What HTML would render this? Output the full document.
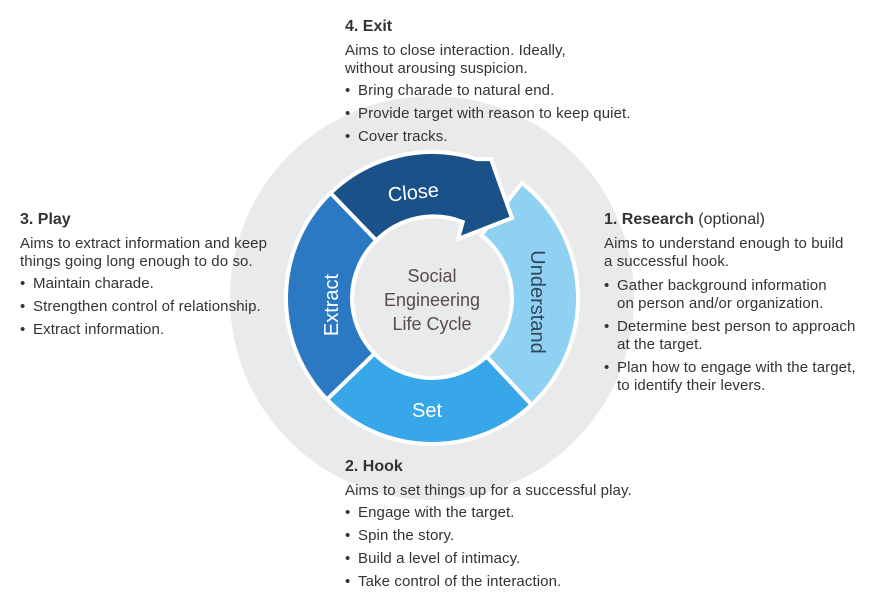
<!DOCTYPE html>
<html><head><meta charset="utf-8">
<style>
html,body{margin:0;padding:0;background:#fff;}
body{width:876px;height:608px;position:relative;overflow:hidden;font-family:"Liberation Sans",sans-serif;color:#333;}
.blk{position:absolute;font-size:15px;letter-spacing:0.1px;line-height:18px;white-space:nowrap;}
.blk h3{margin:0 0 6px 0;font-size:16px;font-weight:bold;color:#333;letter-spacing:0;}
.blk p{margin:0 0 4px 0;}
.blk ul{margin:0;padding:0;list-style:none;}
.blk li{position:relative;padding-left:13px;margin-bottom:5px;}
.blk li:before{content:"•";position:absolute;left:0;}
svg{position:absolute;left:0;top:0;}
</style></head>
<body>
<svg width="876" height="608">
  <circle cx="432" cy="298" r="202" fill="#e9eaeb"/>
  <g id="ring" stroke="#fff" stroke-width="4"></g>
  <text x="432" y="282" text-anchor="middle" font-size="18" fill="#5a4a4a" font-family="Liberation Sans, sans-serif">Social</text>
  <text x="432" y="306" text-anchor="middle" font-size="18" fill="#5a4a4a" font-family="Liberation Sans, sans-serif">Engineering</text>
  <text x="432" y="330" text-anchor="middle" font-size="18" fill="#5a4a4a" font-family="Liberation Sans, sans-serif">Life Cycle</text>
  <text transform="translate(414,199) rotate(-6)" text-anchor="middle" font-size="20" fill="#fff" font-family="Liberation Sans, sans-serif">Close</text>
  <text transform="translate(531,302) rotate(90)" text-anchor="middle" font-size="20" fill="#34465a" font-family="Liberation Sans, sans-serif">Understand</text>
  <text transform="translate(338,305) rotate(-90)" text-anchor="middle" font-size="20" fill="#fff" font-family="Liberation Sans, sans-serif">Extract</text>
  <text x="427" y="417" text-anchor="middle" font-size="20" fill="#fff" font-family="Liberation Sans, sans-serif">Set</text>
</svg>

<div class="blk" style="left:345px;top:18px;">
  <h3>4. Exit</h3>
  <p>Aims to close interaction. Ideally,<br>without arousing suspicion.</p>
  <ul><li>Bring charade to natural end.</li><li>Provide target with reason to keep quiet.</li><li>Cover tracks.</li></ul>
</div>
<div class="blk" style="left:20px;top:211px;">
  <h3>3. Play</h3>
  <p>Aims to extract information and keep<br>things going long enough to do so.</p>
  <ul><li>Maintain charade.</li><li>Strengthen control of relationship.</li><li>Extract information.</li></ul>
</div>
<div class="blk" style="left:604px;top:211px;">
  <h3>1. Research <span style="font-weight:normal">(optional)</span></h3>
  <p style="margin-bottom:6px">Aims to understand enough to build<br>a successful hook.</p>
  <ul><li>Gather background information<br>on person and/or organization.</li><li>Determine best person to approach<br>at the target.</li><li>Plan how to engage with the target,<br>to identify their levers.</li></ul>
</div>
<div class="blk" style="left:345px;top:458px;">
  <h3>2. Hook</h3>
  <p>Aims to set things up for a successful play.</p>
  <ul><li>Engage with the target.</li><li>Spin the story.</li><li>Build a level of intimacy.</li><li>Take control of the interaction.</li></ul>
</div>

<script>
const cx=432, cy=298, R=146, r=80;
function pt(a,rad){const t=(a-90)*Math.PI/180;return [cx+rad*Math.cos(t),cy+rad*Math.sin(t)];}
function sector(a0,a1){
  const p1=pt(a0,R),p2=pt(a1,R),p3=pt(a1,r),p4=pt(a0,r);
  const big=((a1-a0+360)%360)>180?1:0;
  return `M${p1[0]},${p1[1]} A${R},${R} 0 ${big} 1 ${p2[0]},${p2[1]} L${p3[0]},${p3[1]} A${r},${r} 0 ${big} 0 ${p4[0]},${p4[1]} Z`;
}
const g=document.getElementById('ring');
const segs=[
  {n:'understand-segment',a0:38,a1:137,c:'#8fd1f3'},
  {n:'set-segment',a0:137,a1:226,c:'#38a7e9'},
  {n:'extract-segment',a0:226,a1:316,c:'#2b79c3'},
];
segs.forEach(s=>{
  const p=document.createElementNS('http://www.w3.org/2000/svg','path');
  p.setAttribute('d',sector(s.a0,s.a1));
  p.setAttribute('fill',s.c);
  
  
  g.appendChild(p);
});
const p1=pt(316,R),p2=pt(18,R),p3=pt(22,r+2),p4=pt(316,r);
const d=`M${p1[0]},${p1[1]} A${R},${R} 0 0 1 ${p2[0]},${p2[1]} L491,159 L512,218 L458,239 L${p3[0]},${p3[1]} A${r},${r} 0 0 0 ${p4[0]},${p4[1]} Z`;
const a=document.createElementNS('http://www.w3.org/2000/svg','path');
a.setAttribute('d',d);
a.setAttribute('fill','#1a5189');


g.appendChild(a);
</script>
</body></html>
